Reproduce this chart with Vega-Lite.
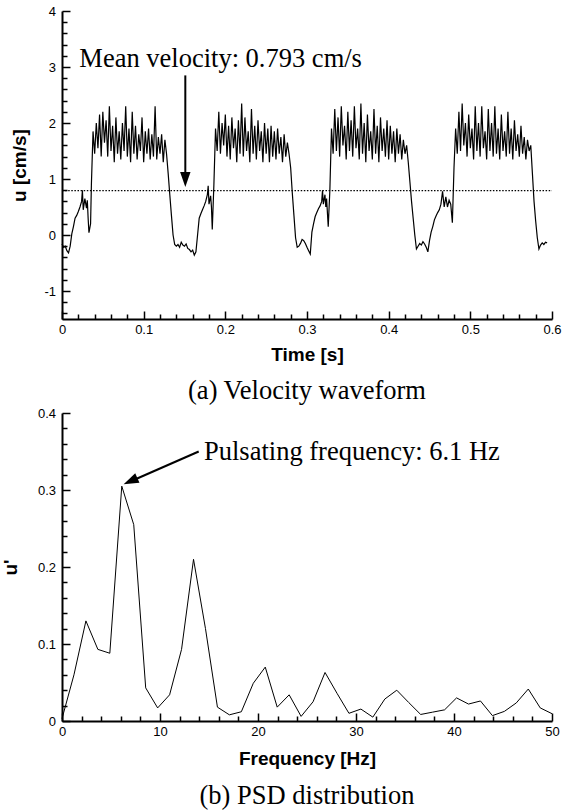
{
  "$schema": "https://vega.github.io/schema/vega-lite/v6.json",
  "padding": {"left": 1, "top": 5, "right": 0, "bottom": 0},
  "background": "white",
  "spacing": 2,
  "config": {
    "view": {"stroke": null},
    "axis": {
      "grid": false,
      "domainColor": "black",
      "domainWidth": 2,
      "tickColor": "black",
      "tickWidth": 1.5,
      "labelFont": "Liberation Sans",
      "labelFontSize": 13,
      "labelColor": "black",
      "labelOverlap": false,
      "labelFlush": false,
      "titleFont": "Liberation Sans",
      "titleFontSize": 19,
      "titleFontWeight": "bold",
      "titleColor": "black"
    }
  },
  "datasets": {
    "wave": [
      {"t":0,"u":-0.16},{"t":0.002,"u":-0.22},{"t":0.004,"u":-0.2},{"t":0.006,"u":-0.28},{"t":0.008,"u":-0.32},{"t":0.01,"u":-0.2},{"t":0.012,"u":0.02},{"t":0.014,"u":0.15},{"t":0.016,"u":0.3},{"t":0.018,"u":0.35},{"t":0.02,"u":0.42},{"t":0.022,"u":0.5},{"t":0.024,"u":0.6},{"t":0.025,"u":0.8},{"t":0.026,"u":0.45},{"t":0.028,"u":0.65},{"t":0.03,"u":0.48},{"t":0.031,"u":0.62},{"t":0.032,"u":0.3},{"t":0.033,"u":0.04},{"t":0.035,"u":0.2},{"t":0.036,"u":0.9},{"t":0.038,"u":1.85},
      {"t":0.04,"u":1.45},{"t":0.042,"u":2.0},{"t":0.044,"u":1.55},{"t":0.046,"u":2.15},{"t":0.048,"u":1.4},{"t":0.05,"u":2.2},{"t":0.052,"u":1.65},{"t":0.054,"u":2.05},{"t":0.056,"u":1.4},{"t":0.058,"u":2.3},{"t":0.06,"u":1.5},{"t":0.062,"u":1.95},{"t":0.064,"u":1.3},{"t":0.066,"u":2.1},{"t":0.068,"u":1.45},{"t":0.07,"u":1.85},{"t":0.072,"u":1.35},{"t":0.074,"u":2.0},{"t":0.076,"u":1.5},{"t":0.078,"u":2.3},{"t":0.08,"u":1.4},{"t":0.082,"u":1.9},{"t":0.084,"u":1.3},{"t":0.086,"u":2.2},{"t":0.088,"u":1.45},{"t":0.09,"u":1.95},{"t":0.092,"u":1.35},{"t":0.094,"u":1.8},{"t":0.096,"u":1.5},{"t":0.098,"u":2.1},{"t":0.1,"u":1.3},{"t":0.102,"u":1.85},{"t":0.104,"u":1.45},{"t":0.106,"u":1.9},{"t":0.108,"u":1.35},{"t":0.11,"u":1.8},{"t":0.112,"u":1.4},{"t":0.114,"u":2.3},{"t":0.116,"u":1.35},{"t":0.118,"u":1.75},{"t":0.12,"u":1.45},{"t":0.122,"u":1.8},{"t":0.124,"u":1.3},{"t":0.126,"u":1.7},{"t":0.128,"u":1.45},
      {"t":0.13,"u":1.1},{"t":0.132,"u":0.72},{"t":0.134,"u":0.35},{"t":0.136,"u":0.0},{"t":0.138,"u":-0.17},{"t":0.14,"u":-0.2},{"t":0.142,"u":-0.17},{"t":0.144,"u":-0.22},{"t":0.146,"u":-0.13},{"t":0.148,"u":-0.18},{"t":0.15,"u":-0.2},{"t":0.152,"u":-0.16},{"t":0.154,"u":-0.24},{"t":0.156,"u":-0.26},{"t":0.158,"u":-0.3},{"t":0.16,"u":-0.27},{"t":0.162,"u":-0.36},{"t":0.164,"u":-0.3},{"t":0.166,"u":0.0},{"t":0.168,"u":0.3},{"t":0.17,"u":0.38},{"t":0.172,"u":0.45},{"t":0.174,"u":0.52},{"t":0.176,"u":0.6},{"t":0.178,"u":0.72},{"t":0.179,"u":0.88},{"t":0.18,"u":0.55},{"t":0.182,"u":0.7},{"t":0.183,"u":0.5},{"t":0.184,"u":0.1},{"t":0.186,"u":0.9},{"t":0.188,"u":1.9},
      {"t":0.19,"u":1.5},{"t":0.192,"u":2.2},{"t":0.194,"u":1.45},{"t":0.196,"u":2.0},{"t":0.198,"u":1.6},{"t":0.2,"u":2.15},{"t":0.202,"u":1.4},{"t":0.204,"u":1.95},{"t":0.206,"u":1.35},{"t":0.208,"u":2.1},{"t":0.21,"u":1.55},{"t":0.212,"u":1.9},{"t":0.214,"u":1.3},{"t":0.216,"u":2.05},{"t":0.218,"u":1.45},{"t":0.22,"u":2.35},{"t":0.222,"u":1.4},{"t":0.224,"u":2.1},{"t":0.226,"u":1.5},{"t":0.228,"u":1.85},{"t":0.23,"u":1.3},{"t":0.232,"u":2.25},{"t":0.234,"u":1.45},{"t":0.236,"u":1.95},{"t":0.238,"u":1.35},{"t":0.24,"u":2.05},{"t":0.242,"u":1.5},{"t":0.244,"u":1.85},{"t":0.246,"u":1.3},{"t":0.248,"u":2.0},{"t":0.25,"u":1.45},{"t":0.252,"u":1.9},{"t":0.254,"u":1.3},{"t":0.256,"u":1.95},{"t":0.258,"u":1.4},{"t":0.26,"u":1.85},{"t":0.262,"u":1.35},{"t":0.264,"u":1.9},{"t":0.266,"u":1.45},{"t":0.268,"u":1.75},{"t":0.27,"u":1.3},{"t":0.272,"u":1.8},{"t":0.274,"u":1.4},{"t":0.276,"u":1.65},{"t":0.278,"u":1.45},
      {"t":0.28,"u":1.2},{"t":0.282,"u":0.75},{"t":0.284,"u":0.35},{"t":0.286,"u":-0.05},{"t":0.288,"u":-0.22},{"t":0.29,"u":-0.2},{"t":0.292,"u":-0.15},{"t":0.294,"u":-0.08},{"t":0.296,"u":-0.1},{"t":0.298,"u":-0.15},{"t":0.3,"u":-0.22},{"t":0.302,"u":-0.28},{"t":0.304,"u":-0.34},{"t":0.306,"u":0.05},{"t":0.308,"u":0.2},{"t":0.31,"u":0.33},{"t":0.312,"u":0.4},{"t":0.314,"u":0.47},{"t":0.316,"u":0.52},{"t":0.318,"u":0.6},{"t":0.319,"u":0.8},{"t":0.32,"u":0.55},{"t":0.322,"u":0.72},{"t":0.323,"u":0.5},{"t":0.324,"u":0.65},{"t":0.326,"u":0.15},{"t":0.328,"u":0.8},{"t":0.33,"u":1.9},
      {"t":0.332,"u":1.45},{"t":0.334,"u":2.25},{"t":0.336,"u":1.5},{"t":0.338,"u":2.1},{"t":0.34,"u":1.4},{"t":0.342,"u":2.3},{"t":0.344,"u":1.6},{"t":0.346,"u":1.95},{"t":0.348,"u":1.35},{"t":0.35,"u":2.2},{"t":0.352,"u":1.5},{"t":0.354,"u":2.05},{"t":0.356,"u":1.4},{"t":0.358,"u":2.3},{"t":0.36,"u":1.55},{"t":0.362,"u":1.9},{"t":0.364,"u":1.35},{"t":0.366,"u":2.35},{"t":0.368,"u":1.45},{"t":0.37,"u":2.0},{"t":0.372,"u":1.3},{"t":0.374,"u":2.15},{"t":0.376,"u":1.5},{"t":0.378,"u":1.85},{"t":0.38,"u":1.35},{"t":0.382,"u":2.25},{"t":0.384,"u":1.45},{"t":0.386,"u":1.95},{"t":0.388,"u":1.3},{"t":0.39,"u":2.1},{"t":0.392,"u":1.5},{"t":0.394,"u":1.9},{"t":0.396,"u":1.4},{"t":0.398,"u":2.05},{"t":0.4,"u":1.35},{"t":0.402,"u":1.95},{"t":0.404,"u":1.45},{"t":0.406,"u":1.85},{"t":0.408,"u":1.3},{"t":0.41,"u":1.9},{"t":0.412,"u":1.45},{"t":0.414,"u":1.8},{"t":0.416,"u":1.35},{"t":0.418,"u":1.7},{"t":0.42,"u":1.45},{"t":0.422,"u":1.6},
      {"t":0.424,"u":1.3},{"t":0.426,"u":0.95},{"t":0.428,"u":0.6},{"t":0.43,"u":0.3},{"t":0.432,"u":0.0},{"t":0.434,"u":-0.25},{"t":0.436,"u":-0.2},{"t":0.438,"u":-0.15},{"t":0.44,"u":-0.18},{"t":0.442,"u":-0.12},{"t":0.444,"u":-0.16},{"t":0.446,"u":-0.22},{"t":0.448,"u":-0.3},{"t":0.45,"u":-0.1},{"t":0.452,"u":0.05},{"t":0.454,"u":0.15},{"t":0.456,"u":0.27},{"t":0.458,"u":0.34},{"t":0.46,"u":0.4},{"t":0.462,"u":0.45},{"t":0.464,"u":0.55},{"t":0.466,"u":0.78},{"t":0.468,"u":0.5},{"t":0.47,"u":0.68},{"t":0.472,"u":0.5},{"t":0.474,"u":0.62},{"t":0.476,"u":0.55},{"t":0.478,"u":0.22},{"t":0.48,"u":1.2},{"t":0.482,"u":1.9},
      {"t":0.484,"u":1.45},{"t":0.486,"u":2.2},{"t":0.488,"u":1.5},{"t":0.49,"u":2.35},{"t":0.492,"u":1.6},{"t":0.494,"u":2.0},{"t":0.496,"u":1.4},{"t":0.498,"u":2.15},{"t":0.5,"u":1.55},{"t":0.502,"u":1.9},{"t":0.504,"u":1.35},{"t":0.506,"u":2.3},{"t":0.508,"u":1.5},{"t":0.51,"u":2.0},{"t":0.512,"u":1.4},{"t":0.514,"u":2.3},{"t":0.516,"u":1.55},{"t":0.518,"u":1.85},{"t":0.52,"u":1.35},{"t":0.522,"u":2.25},{"t":0.524,"u":1.5},{"t":0.526,"u":2.0},{"t":0.528,"u":1.4},{"t":0.53,"u":2.3},{"t":0.532,"u":1.45},{"t":0.534,"u":1.9},{"t":0.536,"u":1.35},{"t":0.538,"u":2.15},{"t":0.54,"u":1.5},{"t":0.542,"u":1.85},{"t":0.544,"u":1.4},{"t":0.546,"u":2.2},{"t":0.548,"u":1.45},{"t":0.55,"u":1.9},{"t":0.552,"u":1.35},{"t":0.554,"u":2.05},{"t":0.556,"u":1.5},{"t":0.558,"u":1.8},{"t":0.56,"u":1.4},{"t":0.562,"u":1.95},{"t":0.564,"u":1.45},{"t":0.566,"u":1.75},{"t":0.568,"u":1.35},{"t":0.57,"u":1.7},{"t":0.572,"u":1.5},{"t":0.574,"u":1.6},
      {"t":0.576,"u":1.1},{"t":0.578,"u":0.6},{"t":0.58,"u":0.25},{"t":0.582,"u":-0.05},{"t":0.584,"u":-0.25},{"t":0.586,"u":-0.18},{"t":0.588,"u":-0.14},{"t":0.59,"u":-0.17},{"t":0.592,"u":-0.13},{"t":0.594,"u":-0.14}
    ],
    "meanLine": [{"t": 0, "t2": 0.6, "u": 0.793}],
    "meanLabel": [{"t": 0.0212, "u": 3.0, "label": "Mean velocity: 0.793 cm/s"}],
    "meanArrow": [{"t": 0.151, "u": 2.85, "u2": 1.1}],
    "meanTip": [{"t": 0.151, "u": 0.857}],
    "psd": [
      {"f":0,"p":0.003},{"f":1.22,"p":0.06},{"f":2.44,"p":0.13},{"f":3.66,"p":0.093},{"f":4.88,"p":0.088},{"f":6.1,"p":0.305},{"f":7.32,"p":0.255},{"f":8.54,"p":0.043},{"f":9.76,"p":0.017},{"f":10.98,"p":0.034},{"f":12.2,"p":0.093},{"f":13.42,"p":0.21},{"f":14.64,"p":0.12},{"f":15.86,"p":0.018},{"f":17.08,"p":0.008},{"f":18.3,"p":0.012},{"f":19.52,"p":0.049},{"f":20.74,"p":0.07},{"f":21.96,"p":0.018},{"f":23.18,"p":0.034},{"f":24.4,"p":0.006},{"f":25.62,"p":0.025},{"f":26.84,"p":0.063},{"f":28.06,"p":0.036},{"f":29.28,"p":0.01},{"f":30.5,"p":0.0155},{"f":31.72,"p":0.005},{"f":32.94,"p":0.0285},{"f":34.16,"p":0.04},{"f":35.38,"p":0.024},{"f":36.6,"p":0.0085},{"f":37.82,"p":0.0115},{"f":39.04,"p":0.0145},{"f":40.26,"p":0.03},{"f":41.48,"p":0.022},{"f":42.7,"p":0.026},{"f":43.92,"p":0.007},{"f":45.14,"p":0.0125},{"f":46.36,"p":0.0235},{"f":47.58,"p":0.0415},{"f":48.8,"p":0.017},{"f":50,"p":0.0095}
    ],
    "peakLabel": [{"f": 14.49, "p": 0.3386, "label": "Pulsating frequency: 6.1 Hz"}],
    "peakArrow": [{"f": 13.95, "p": 0.35, "f2": 7.32, "p2": 0.313}],
    "peakTip": [{"f": 6.29, "p": 0.3075}]
  },
  "vconcat": [
    {
      "width": 490,
      "height": 308,
      "title": {"text": "(a) Velocity waveform", "orient": "bottom", "anchor": "middle", "font": "Liberation Serif", "fontSize": 26.5, "fontWeight": "normal", "color": "black", "baseline": "alphabetic", "offset": 35},
      "encoding": {
        "x": {"field": "t", "type": "quantitative", "scale": {"domain": [0, 0.6], "nice": false, "zero": false},
          "axis": {"title": "Time [s]", "values": [0,0.02,0.04,0.06,0.08,0.1,0.12,0.14,0.16,0.18,0.2,0.22,0.24,0.26,0.28,0.3,0.32,0.34,0.36,0.38,0.4,0.42,0.44,0.46,0.48,0.5,0.52,0.54,0.56,0.58,0.6],
            "tickSize": {"condition": {"test": "abs(datum.value*10-round(datum.value*10))<0.001", "value": -8}, "value": -5},
            "labelExpr": "abs(datum.value*10-round(datum.value*10))<0.001 ? ''+datum.value : ''",
            "labelOverlap": false, "labelBound": false,
            "labelPadding": 12, "titleY": 41, "titleBaseline": "alphabetic"}},
        "y": {"field": "u", "type": "quantitative", "scale": {"domain": [-1.5, 4], "nice": false, "zero": false},
          "axis": {"title": "u [cm/s]", "values": [-1.4,-1.2,-1,-0.8,-0.6,-0.4,-0.2,0,0.2,0.4,0.6,0.8,1,1.2,1.4,1.6,1.8,2,2.2,2.4,2.6,2.8,3,3.2,3.4,3.6,3.8,4],
            "tickSize": {"condition": {"test": "abs(datum.value-round(datum.value))<0.001", "value": -8}, "value": -5},
            "labelExpr": "abs(datum.value-round(datum.value))<0.001 ? ''+datum.value : ''",
            "labelOverlap": false, "labelBound": false,
            "labelPadding": 14.5, "titleX": -36.7, "titleBaseline": "alphabetic"}}
      },
      "layer": [
        {
          "data": {"name": "wave"},
          "mark": {"type": "line", "color": "black", "strokeWidth": 1.2}
        },
        {
          "data": {"name": "meanLine"},
          "mark": {"type": "rule", "color": "black", "strokeWidth": 1.4, "strokeDash": [1.5, 1.6]},
          "encoding": {"x2": {"field": "t2"}}
        },
        {
          "data": {"name": "meanLabel"},
          "mark": {"type": "text", "font": "Liberation Serif", "fontSize": 26.5, "align": "left", "baseline": "alphabetic", "color": "black"},
          "encoding": {"text": {"field": "label"}}
        },
        {
          "data": {"name": "meanArrow"},
          "mark": {"type": "rule", "color": "black", "strokeWidth": 2},
          "encoding": {"y2": {"field": "u2"}}
        },
        {
          "data": {"name": "meanTip"},
          "mark": {"type": "point", "shape": "M 0 0 L -1.3 -3.75 L 1.3 -3.75 Z", "size": 64, "filled": true, "color": "black", "opacity": 1, "strokeWidth": 0}
        }
      ]
    },
    {
      "width": 490,
      "height": 308,
      "title": {"text": "(b) PSD distribution", "orient": "bottom", "anchor": "middle", "font": "Liberation Serif", "fontSize": 26.5, "fontWeight": "normal", "color": "black", "baseline": "alphabetic", "offset": 36},
      "encoding": {
        "x": {"field": "f", "type": "quantitative", "scale": {"domain": [0, 50], "nice": false, "zero": false},
          "axis": {"title": "Frequency [Hz]", "values": [0,2,4,6,8,10,12,14,16,18,20,22,24,26,28,30,32,34,36,38,40,42,44,46,48,50],
            "tickSize": {"condition": {"test": "datum.value%10==0", "value": -8}, "value": -5},
            "labelExpr": "datum.value%10==0 ? ''+datum.value : ''",
            "labelOverlap": false, "labelBound": false,
            "labelPadding": 12, "titleY": 43, "titleBaseline": "alphabetic"}},
        "y": {"field": "p", "type": "quantitative", "scale": {"domain": [0, 0.4], "nice": false, "zero": false},
          "axis": {"title": "u'", "values": [0,0.02,0.04,0.06,0.08,0.1,0.12,0.14,0.16,0.18,0.2,0.22,0.24,0.26,0.28,0.3,0.32,0.34,0.36,0.38,0.4],
            "tickSize": {"condition": {"test": "abs(datum.value*10-round(datum.value*10))<0.001", "value": -8}, "value": -5},
            "labelExpr": "abs(datum.value*10-round(datum.value*10))<0.001 ? ''+datum.value : ''",
            "labelOverlap": false, "labelBound": false,
            "labelPadding": 14.5, "titleX": -45.8, "titleBaseline": "alphabetic"}}
      },
      "layer": [
        {
          "data": {"name": "psd"},
          "mark": {"type": "line", "color": "black", "strokeWidth": 1}
        },
        {
          "data": {"name": "peakLabel"},
          "mark": {"type": "text", "font": "Liberation Serif", "fontSize": 26.5, "align": "left", "baseline": "alphabetic", "color": "black"},
          "encoding": {"text": {"field": "label"}}
        },
        {
          "data": {"name": "peakArrow"},
          "mark": {"type": "rule", "color": "black", "strokeWidth": 2},
          "encoding": {"x2": {"field": "f2"}, "y2": {"field": "p2"}}
        },
        {
          "data": {"name": "peakTip"},
          "mark": {"type": "point", "shape": "M 0 0 L -1.3 -3.75 L 1.3 -3.75 Z", "size": 64, "filled": true, "color": "black", "opacity": 1, "strokeWidth": 0, "angle": 66}
        }
      ]
    }
  ]
}
